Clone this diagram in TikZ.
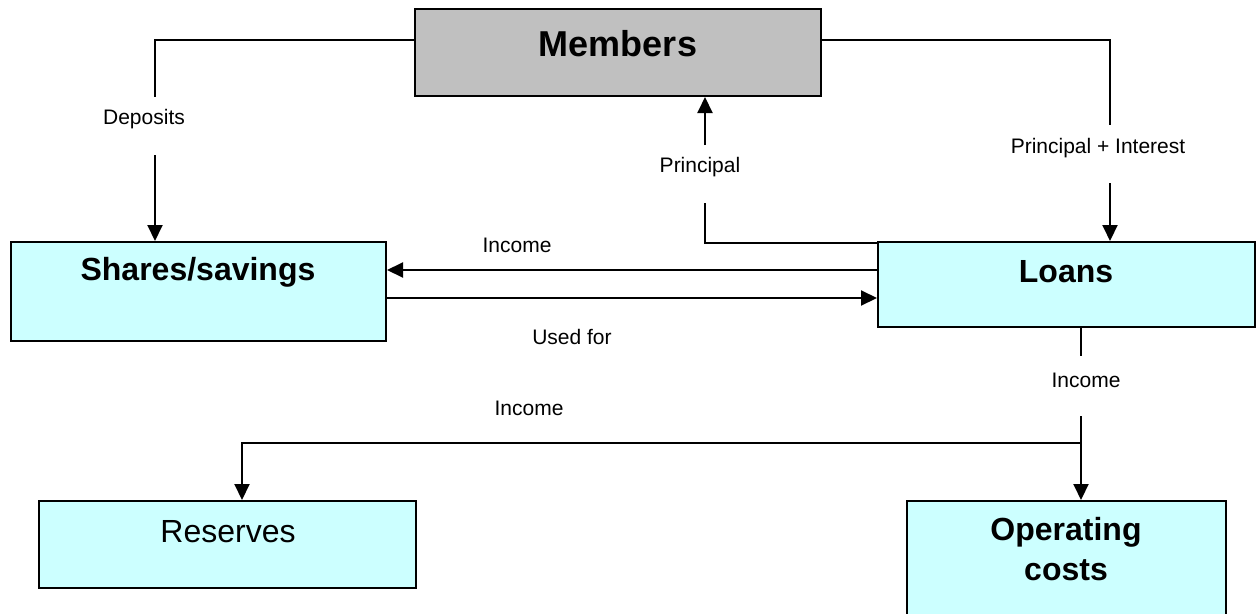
\documentclass[tikz,border=0pt]{standalone}
\usepackage{fontspec}
\setmainfont{Liberation Sans}
\usetikzlibrary{arrows.meta}
\definecolor{boxcyan}{HTML}{CCFFFF}
\definecolor{boxgray}{HTML}{C0C0C0}
\begin{document}
\begin{tikzpicture}[x=1pt,y=1pt,
  box/.style={draw, line width=2pt, fill=boxcyan, inner sep=0pt},
  ttl/.style={font=\bfseries\fontsize{32}{38}\selectfont, inner sep=0pt, align=center},
  plain/.style={font=\fontsize{32}{38}\selectfont, inner sep=0pt},
  lbl/.style={font=\fontsize{21}{25}\selectfont, inner sep=0pt},
  conn/.style={line width=2pt},
  arr/.style={conn, -{Triangle[length=16pt,width=15pt]}}]
\useasboundingbox (0,0) rectangle (1260,-613);
\fill[white] (0,0) rectangle (1260,-613);

% boxes
\node[box, fill=boxgray, minimum width=406pt, minimum height=87pt] (mem) at (618,-52.5) {};
\node[box, minimum width=375pt, minimum height=99pt] (sha) at (198.5,-291.5) {};
\node[box, minimum width=377pt, minimum height=85pt] (loa) at (1066.5,-284.5) {};
\node[box, minimum width=377pt, minimum height=87pt] (res) at (227.5,-544.5) {};
\node[box, minimum width=319pt, minimum height=124pt] (ope) at (1066.5,-563) {};

% box texts
\node[ttl, font=\bfseries\fontsize{36}{42}\selectfont] (memt) at (618,-44) {Members};
\node[ttl] (shat) at (198,-272) {Shares/savings};
\node[ttl] (loat) at (1066,-272) {Loans};
\node[plain] (rest) at (228,-532) {Reserves};
\node[ttl] (opet1) at (1066,-532) {Operating};
\node[ttl] (opet2) at (1066,-570) {costs};

% coordinates of bends and gaps
\coordinate (dk) at (155,-40);
\coordinate (dg1) at (155,-97);
\coordinate (dg2) at (155,-155);
\coordinate (pk) at (1110,-40);
\coordinate (pg1) at (1110,-125);
\coordinate (pg2) at (1110,-183);
\coordinate (rk) at (705,-243);
\coordinate (rg1) at (705,-203);
\coordinate (rg2) at (705,-145);
\coordinate (ia) at (0,-270);
\coordinate (ua) at (0,-298);
\coordinate (lg1) at (1081,-356);
\coordinate (lg2) at (1081,-416);
\coordinate (lj) at (1081,-443);
\coordinate (rsk) at (242,-443);

% Deposits
\draw[conn] (mem.west |- dk) -- (dk) -- (dg1);
\draw[arr] (dg2) -- (sha.north -| dg2);
\node[lbl] (dep) at (144,-119) {Deposits};

% Principal + Interest
\draw[conn] (mem.east |- pk) -- (pk) -- (pg1);
\draw[arr] (pg2) -- (loa.north -| pg2);
\node[lbl] (pint) at (1098,-148) {Principal + Interest};

% Principal
\draw[conn] (loa.west |- rk) -- (rk) -- (rg1);
\draw[arr] (rg2) -- (mem.south -| rg2);
\node[lbl] (prin) at (700,-167) {Principal};

% Income and Used for
\draw[arr] (loa.west |- ia) -- (sha.east |- ia);
\node[lbl] (inc1) at (517,-245) {Income};
\draw[arr] (sha.east |- ua) -- (loa.west |- ua);
\node[lbl] (used) at (572,-337) {Used for};

% Income from loans
\draw[conn] (loa.south -| lg1) -- (lg1);
\node[lbl] (inc2) at (1086,-380) {Income};
\draw[arr] (lg2) -- (ope.north -| lg2);
\draw[arr] (lj) -- (rsk) -- (res.north -| rsk);
\node[lbl] (inc3) at (529,-408) {Income};
\end{tikzpicture}
\end{document}
